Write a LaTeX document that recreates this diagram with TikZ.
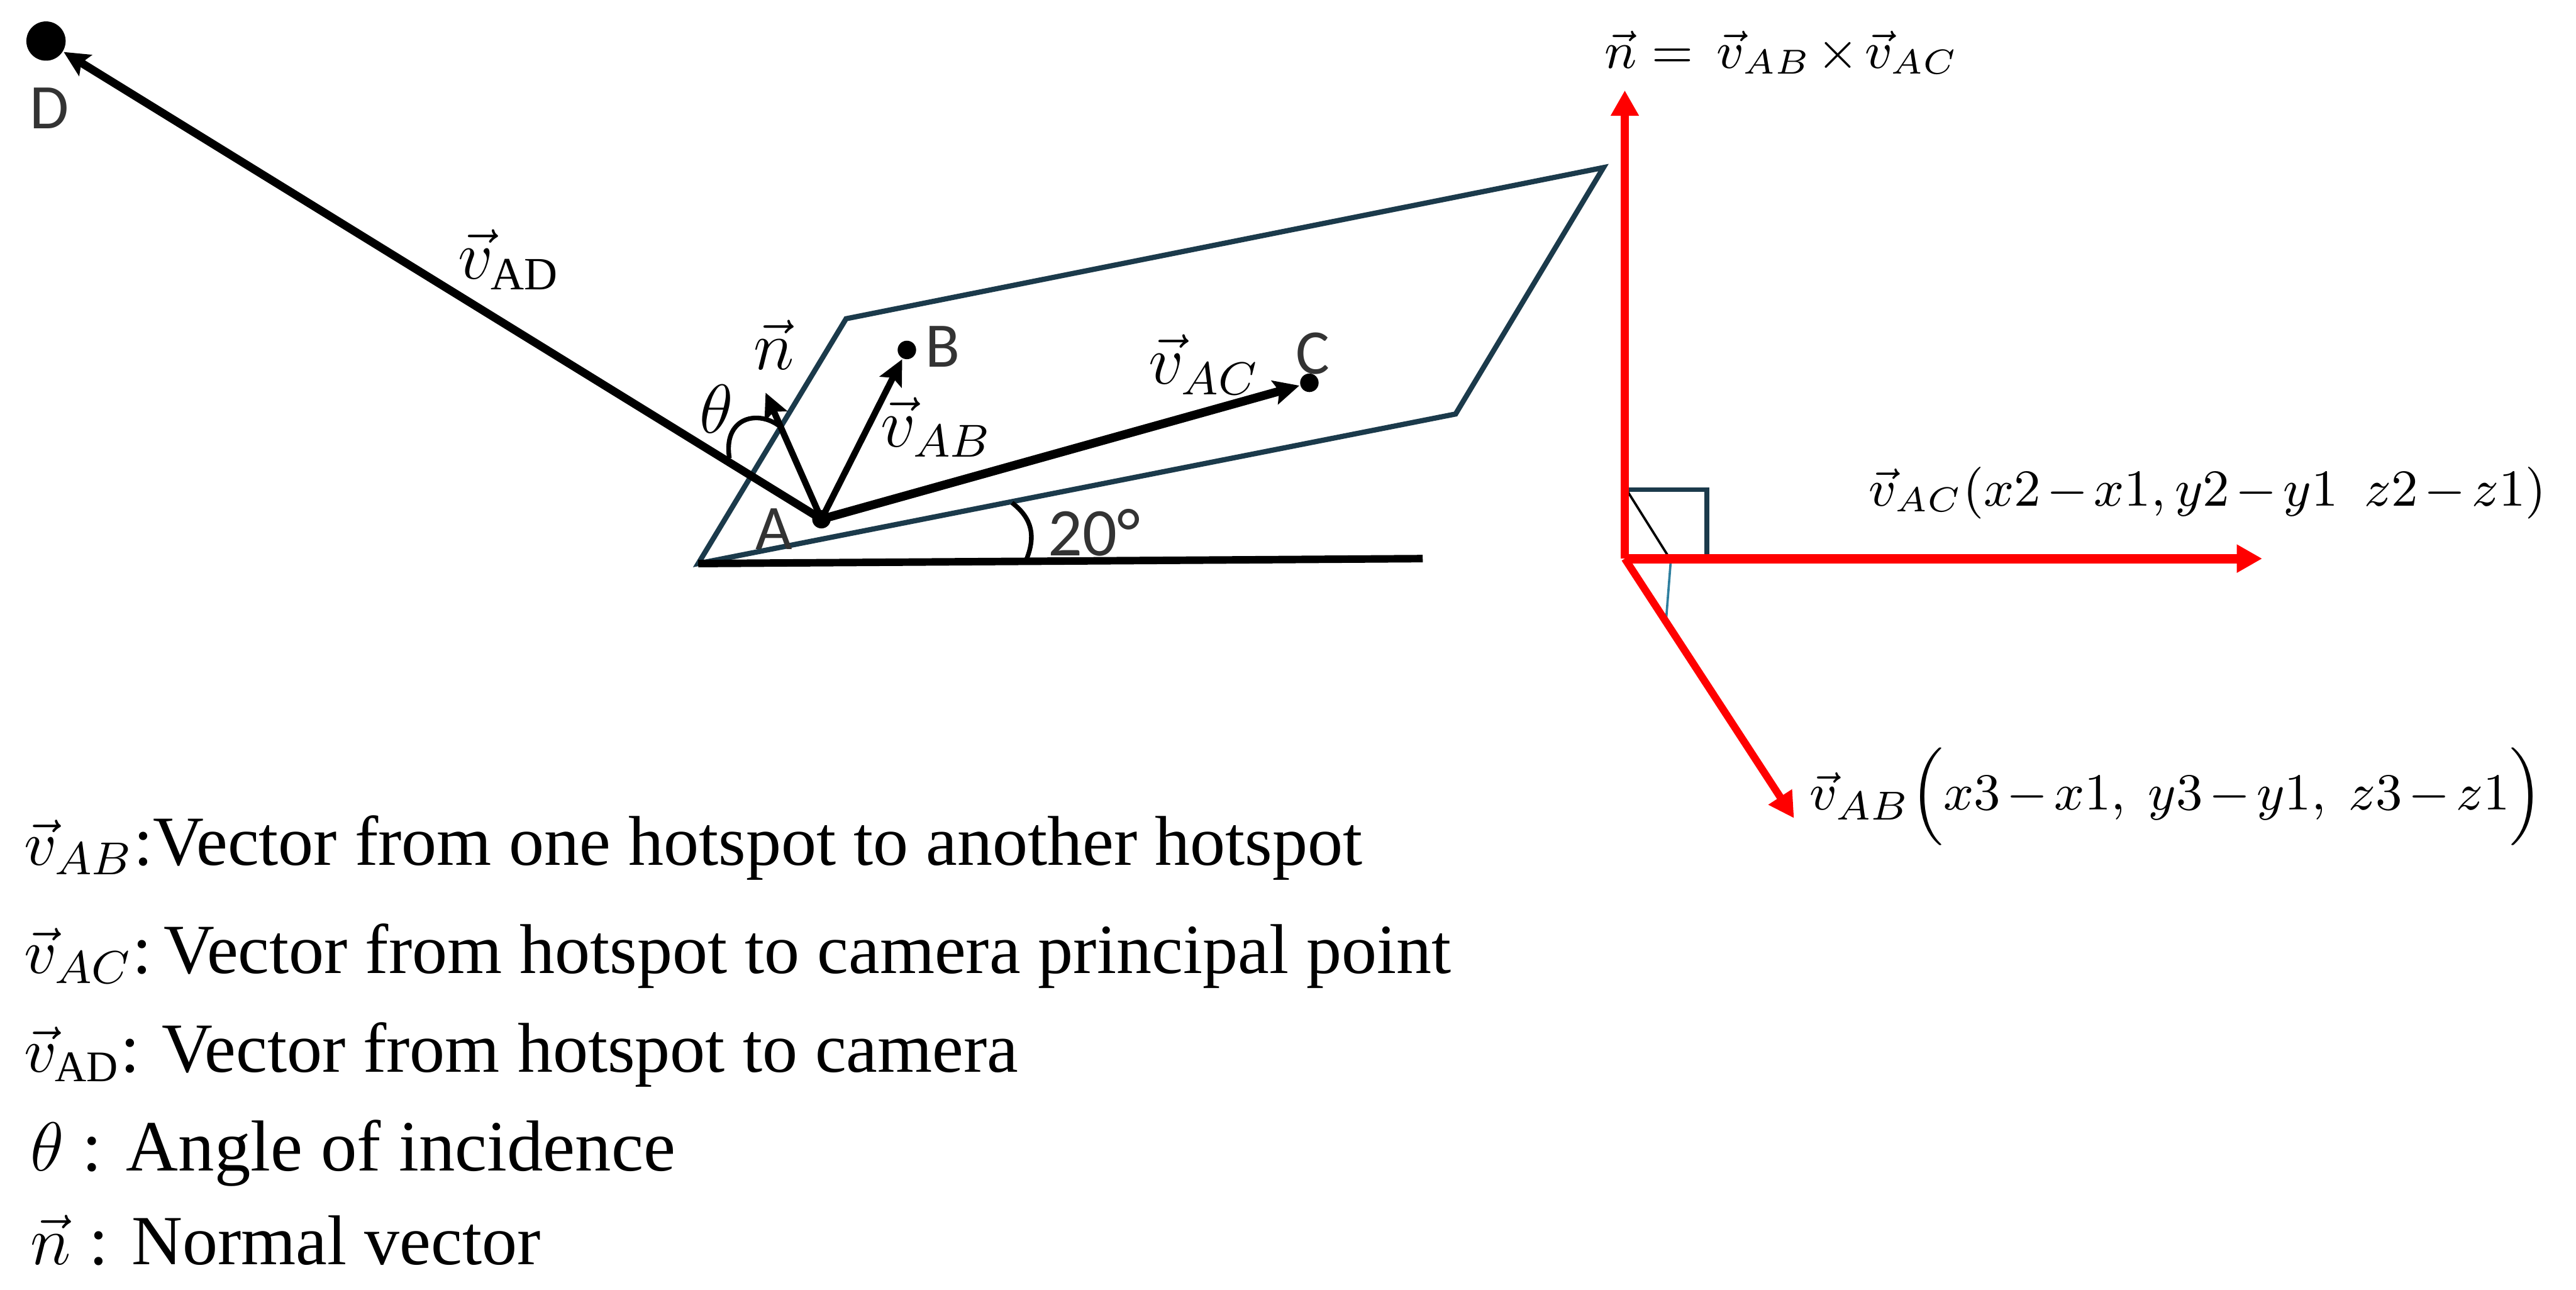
\documentclass[tikz,border=0pt]{standalone}
\usepackage{fontspec}
\setmainfont{Liberation Serif}
\newfontfamily\labelfont{Carlito}
\usepackage{amsmath,amssymb}
\usetikzlibrary{arrows.meta}
\definecolor{planecol}{HTML}{1B3A4B}
\definecolor{thincol}{HTML}{2F7F9F}
\newcommand{\legsym}[1]{{\fontsize{10.8}{12}\selectfont$#1$}}
\tikzset{
        dot/.style={circle,fill=black,inner sep=0pt,minimum size=#1},
        vecline/.style={line width=#1,-{Stealth[length=4.4pt,width=4.2pt,inset=.8pt]}},
        redline/.style={red,line width=#1,-{Triangle[length=4.4pt,width=4.6pt]}},
        legend/.style={anchor=west,inner sep=0pt,font=\fontsize{12.2}{14}\selectfont},
        lab/.style={inner sep=0pt,font=\fontsize{12}{14}\selectfont},
        eqlab/.style={anchor=west,inner sep=0pt,font=\fontsize{9.2}{12}\selectfont},
        pointlab/.style={inner sep=0pt,text=black!80,font=\labelfont\fontsize{11}{13}\selectfont}
    }
\begin{document}
\begin{tikzpicture}

\useasboundingbox (0,0) rectangle (15.68,7.85);

% plane and floor
\coordinate (P1) at (4.25,4.42);
\coordinate (P2) at (5.15,5.91);
\coordinate (P3) at (9.76,6.83);
\coordinate (P4) at (8.86,5.33);
\coordinate (FLOOR) at (8.66,4.45);
\draw[planecol,line width=.9pt] (P1) -- (P2) -- (P3) -- (P4) -- cycle;
\draw[line width=1.3pt] (P1) -- (FLOOR);

% points
\draw (5.00,4.69) node(A)[dot=3.2pt]{};
\draw (5.52,5.72) node(B)[dot=3.2pt]{};
\draw (7.97,5.52) node(C)[dot=3.2pt]{};
\draw (.28,7.60) node(D)[dot=6.8pt]{};
\coordinate (NTIP) at (4.66,5.46);

\draw[vecline=1.4pt] (A.center) -- (D);
\draw[vecline=1.1pt] (A.center) -- (NTIP);
\draw[vecline=1.1pt] (A.center) -- (B);
\draw[vecline=1.5pt] (A.center) -- (C);

% angles
\coordinate (T1) at (4.44,5.06);
\coordinate (T2) at (4.74,5.26);
\coordinate (F1) at (6.16,4.79);
\coordinate (F2) at (6.25,4.45);
\draw[line width=.8pt] (T1) .. controls (4.40,5.30) and (4.60,5.36) .. (T2);
\draw[line width=.8pt] (F1) .. controls (6.29,4.69) and (6.30,4.58) .. (F2);

\draw (.30,7.19) node(LD)[pointlab]{D};
\draw (4.71,4.63) node(LA)[pointlab]{A};
\draw (5.74,5.74) node(LB)[pointlab]{B};
\draw (7.99,5.70) node(LC)[pointlab]{C};
\draw (6.66,4.61) node(LANG)[pointlab,font=\labelfont\fontsize{11.8}{14}\selectfont]{20°};
\draw (4.36,5.36) node(LTH)[lab]{$\theta$};
\draw (4.71,5.75) node(LN)[lab]{$\vec{n}$};
\draw (3.10,6.27) node(LAD)[lab]{$\vec{v}_{\mathrm{AD}}$};
\draw (5.70,5.25) node(LAB)[lab]{$\vec{v}_{AB}$};
\draw (7.33,5.63) node(LAC)[lab]{$\vec{v}_{AC}$};

% cross product axes
\coordinate (O) at (9.89,4.45);
\coordinate (UP) at (9.89,7.30);
\coordinate (RIGHT) at (13.77,4.45);
\coordinate (DOWN) at (10.92,2.87);
\coordinate (S1) at (9.90,4.87);
\coordinate (S2) at (10.39,4.87);
\coordinate (S3) at (10.39,4.47);
\coordinate (S4) at (10.17,4.44);
\coordinate (S5) at (10.14,4.06);
\draw[planecol,line width=.8pt] (S1) -- (S2) -- (S3);
\draw[line width=.4pt] (S1) -- (S4);
\draw[thincol,line width=.4pt] (S4) -- (S5);
\draw[redline=1.4pt] (O) -- (UP);
\draw[redline=1.6pt] (O) -- (RIGHT);
\draw[redline=1.3pt] (O) -- (DOWN);

\draw (9.76,7.53) node(NEQ)[eqlab,font=\fontsize{8.7}{12}\selectfont]{$\medmuskip=2mu\vec{n}=\,\vec{v}_{AB}\times\vec{v}_{AC}$};
\draw (11.37,4.85) node(VAC)[eqlab]{$\medmuskip=2mu\vec{v}_{AC}(x2-x1,y2-y1\ \ z2-z1)$};
\draw (11.01,3.00) node(VAB)[eqlab,font=\fontsize{9.4}{12}\selectfont]{$\medmuskip=2mu\vec{v}_{AB}\Bigl(x3-x1,\ y3-y1,\ z3-z1\Bigr)$};

% legend
\draw (.14,2.69) node(L1)[legend]{\legsym{\vec{v}_{AB}}:Vector from one hotspot to another hotspot};
\draw (.14,2.03) node(L2)[legend]{\legsym{\vec{v}_{AC}}:\hspace{2pt}Vector from hotspot to camera principal point};
\draw (.14,1.43) node(L3)[legend]{\legsym{\vec{v}_{\mathrm{AD}}}:\hspace{3.7pt}Vector from hotspot to camera};
\draw (.18,.83) node(L4)[legend,font=\fontsize{12.5}{14}\selectfont]{$\theta$ : Angle of incidence};
\draw (.18,.30) node(L5)[legend]{$\vec{n}$ : Normal vector};

\end{tikzpicture}
\end{document}
